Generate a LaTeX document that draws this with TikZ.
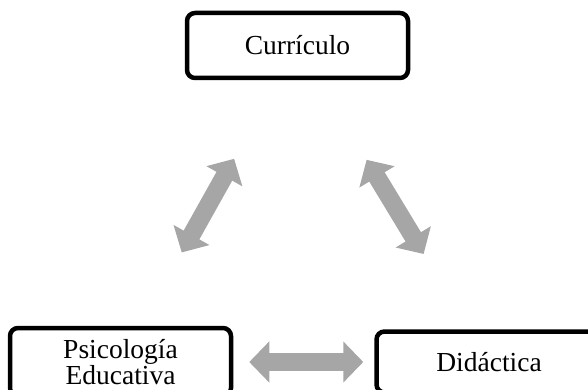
\documentclass[tikz,border=0pt]{standalone}
\usepackage{fontspec}
\setmainfont{Liberation Serif}
\usetikzlibrary{arrows.meta,positioning}
\definecolor{arrowgray}{HTML}{A6A6A6}

\begin{document}
\begin{tikzpicture}[
  x=1pt, y=-1pt,
  font=\fontsize{27.5}{26}\selectfont,
  box/.style={draw, line width=4.5pt, rounded corners=8pt, align=center, inner sep=2pt},
  biarrow/.style={{Triangle[length=20pt,width=40pt]}-{Triangle[length=20pt,width=40pt]}, line width=18pt, draw=arrowgray}
]
\useasboundingbox (0,0) rectangle (588,390);
\clip (0,0) rectangle (588,390);

\node[box, minimum width=221pt, minimum height=65pt] (curr) at (297.5,45.5) {Currículo};
\node[box, minimum width=221pt, minimum height=68pt] (psic) at (120.5,362) {Psicología\\Educativa};
\node[box, minimum width=225pt, minimum height=61pt, right=141pt of psic] (did) {Didáctica};

\draw[biarrow, shorten <=84pt, shorten >=90pt] (psic) -- (curr);
\draw[biarrow, shorten <=93pt, shorten >=88pt] (curr) -- (did);
\draw[biarrow, shorten <=16pt, shorten >=11pt] (psic) -- (did);
\end{tikzpicture}
\end{document}
